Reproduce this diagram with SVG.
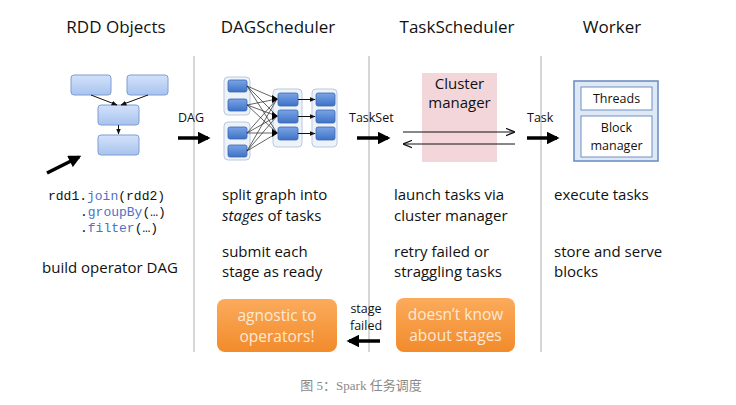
<svg xmlns="http://www.w3.org/2000/svg" width="736" height="405" viewBox="0 0 736 405">
<defs>
<linearGradient id="gLight" x1="0" y1="0" x2="0" y2="1"><stop offset="0" stop-color="#d3e2fa"/><stop offset="1" stop-color="#a8c3ee"/></linearGradient>
<linearGradient id="gDark" x1="0" y1="0" x2="0" y2="1"><stop offset="0" stop-color="#7aa4e6"/><stop offset="1" stop-color="#3f72c6"/></linearGradient>
<linearGradient id="gOrange" x1="0" y1="0" x2="0" y2="1"><stop offset="0" stop-color="#fbab5c"/><stop offset="1" stop-color="#f28b2b"/></linearGradient>
<marker id="mThin" viewBox="0 0 10 10" refX="9" refY="5" markerWidth="6" markerHeight="6" orient="auto"><path d="M0,1 L10,5 L0,9 z" fill="#111"/></marker>
<marker id="mThick" viewBox="0 0 10 10" refX="8" refY="5" markerWidth="3.6" markerHeight="3.6" orient="auto"><path d="M0,0 L10,5 L0,10 z" fill="#000"/></marker>
<marker id="mLine" viewBox="0 0 10 10" refX="9" refY="5" markerWidth="9" markerHeight="9" orient="auto"><path d="M0,1 L10,5 L0,9" fill="none" stroke="#111" stroke-width="1.4"/></marker>
</defs>
<style>
text{font-family:"Open Sans","Noto Sans",sans-serif;fill:#111}
.h{font-size:17px;text-anchor:middle}
.t{font-size:15px}
.lbl{font-size:12.5px}
.code{font-family:"Liberation Mono","DejaVu Sans Mono",monospace;font-size:13px}
.kw{fill:#4a72c8}
.sep{stroke:#c8c8c8;stroke-width:1.5}
.rdd{fill:url(#gLight);stroke:#7d9ed6;stroke-width:1}
.grp{fill:#eef3fa;stroke:#b9c9e0;stroke-width:1}
.tb{fill:url(#gDark);stroke:#3a66b0;stroke-width:0.8}
.thin{stroke:#111;stroke-width:1;fill:none}
.thick{stroke:#000;stroke-width:3.5;fill:none;marker-end:url(#mThick)}
.orange{fill:url(#gOrange)}
.ot{font-size:15.5px;fill:#fde9d3;text-anchor:middle}
.wk{fill:#dfe8f5;stroke:#6f8fc4;stroke-width:1.6}
.wi{fill:#fff;stroke:#6f8fc4;stroke-width:1}
.cap{font-family:"Liberation Serif","Noto Sans CJK SC",serif;font-size:13px;fill:#8a8a8a;text-anchor:middle}
</style>
<rect width="736" height="405" fill="#fff"/>

<g id="headers">
<text class="h" x="116" y="33">RDD Objects</text>
<text class="h" x="278" y="33">DAGScheduler</text>
<text class="h" x="457" y="33">TaskScheduler</text>
<text class="h" x="612" y="33">Worker</text>
</g>

<g id="separators">
<line class="sep" x1="194" y1="56" x2="194" y2="352"/>
<line class="sep" x1="369" y1="56" x2="369" y2="352"/>
<line class="sep" x1="541" y1="56" x2="541" y2="352"/>
</g>

<g id="rdd-objects">
<rect class="rdd" x="71" y="75" width="40" height="20" rx="3"/>
<rect class="rdd" x="127" y="75" width="41" height="20" rx="3"/>
<rect class="rdd" x="98" y="105" width="41" height="20" rx="3"/>
<rect class="rdd" x="98" y="135" width="41" height="20" rx="3"/>
<line class="thin" x1="91" y1="95" x2="117" y2="105" marker-end="url(#mThin)"/>
<line class="thin" x1="148" y1="95" x2="121" y2="105" marker-end="url(#mThin)"/>
<line class="thin" x1="118.5" y1="125" x2="118.5" y2="134" marker-end="url(#mThin)"/>
<line class="thick" x1="47" y1="173" x2="79" y2="157"/>
<text class="code" x="48" y="200">rdd1.<tspan class="kw">join</tspan>(rdd2)</text>
<text class="code" x="80" y="216">.<tspan class="kw">groupBy</tspan>(…)</text>
<text class="code" x="80" y="232">.<tspan class="kw">filter</tspan>(…)</text>
<text class="t" x="42" y="273">build operator DAG</text>
</g>

<g id="dag-scheduler">
<rect class="grp" x="224" y="77" width="26" height="38" rx="4"/>
<rect class="grp" x="224" y="122" width="26" height="38" rx="4"/>
<rect class="grp" x="273" y="89" width="29" height="58" rx="4"/>
<rect class="grp" x="312" y="89" width="25" height="58" rx="4"/>
<rect class="tb" x="228" y="80" width="19" height="12" rx="2"/>
<rect class="tb" x="228" y="99" width="19" height="12" rx="2"/>
<rect class="tb" x="228" y="127" width="19" height="12" rx="2"/>
<rect class="tb" x="228" y="145" width="19" height="12" rx="2"/>
<rect class="tb" x="278" y="93" width="20" height="13" rx="2"/>
<rect class="tb" x="278" y="110" width="20" height="13" rx="2"/>
<rect class="tb" x="278" y="127" width="20" height="13" rx="2"/>
<rect class="tb" x="316" y="93" width="19" height="13" rx="2"/>
<rect class="tb" x="316" y="110" width="19" height="13" rx="2"/>
<rect class="tb" x="316" y="127" width="19" height="13" rx="2"/>
</g>

<g id="task-scheduler">
<rect x="422" y="73" width="75" height="89" fill="#f3d6da"/>
<text class="t" x="459.5" y="89" text-anchor="middle">Cluster</text>
<text class="t" x="459.5" y="108" text-anchor="middle">manager</text>
<text class="t" x="394" y="200">launch tasks via</text>
<text class="t" x="394" y="221">cluster manager</text>
<text class="t" x="394" y="257">retry failed or</text>
<text class="t" x="394" y="277">straggling tasks</text>
</g>

<g id="worker">
<rect class="wk" x="574" y="81" width="84" height="80"/>
<rect class="wi" x="581" y="87" width="71" height="23"/>
<rect class="wi" x="581" y="116" width="71" height="41"/>
<text class="lbl" x="616.5" y="103" text-anchor="middle" font-size="13">Threads</text>
<text class="lbl" x="616.5" y="132" text-anchor="middle" font-size="13">Block</text>
<text class="lbl" x="616.5" y="150" text-anchor="middle" font-size="13">manager</text>
<text class="t" x="554" y="200">execute tasks</text>
<text class="t" x="554" y="257">store and serve</text>
<text class="t" x="554" y="277">blocks</text>
</g>

<g id="dag-texts">
<text class="t" x="222" y="200">split graph into</text>
<text class="t" x="222" y="221"><tspan font-style="italic">stages</tspan> of tasks</text>
<text class="t" x="222" y="257">submit each</text>
<text class="t" x="222" y="277">stage as ready</text>
</g>

<g id="agnostic">
<rect class="orange" x="217" y="299" width="120" height="53" rx="8"/>
<text class="ot" x="277" y="321">agnostic to</text>
<text class="ot" x="277" y="342">operators!</text>
</g>
<g id="no-stages">
<rect class="orange" x="396" y="298" width="119" height="54" rx="8"/>
<text class="ot" x="455.5" y="320">doesn’t know</text>
<text class="ot" x="455.5" y="341">about stages</text>
</g>

<g id="connectors">
<text class="lbl" x="178" y="122">DAG</text>
<line class="thick" x1="178" y1="138" x2="208" y2="138"/>
<text class="lbl" x="349" y="122">TaskSet</text>
<line class="thick" x1="357" y1="138" x2="388" y2="138"/>
<text class="lbl" x="527" y="122">Task</text>
<line class="thick" x1="527" y1="138" x2="557" y2="138"/>
<line class="thin" x1="403" y1="132" x2="514" y2="132" marker-end="url(#mLine)"/>
<line class="thin" x1="515" y1="144" x2="404" y2="144" marker-end="url(#mLine)"/>
<text class="lbl" x="366" y="313" text-anchor="middle" font-size="12">stage</text>
<text class="lbl" x="366" y="330" text-anchor="middle" font-size="12">failed</text>
<line class="thick" x1="380" y1="341" x2="349" y2="341"/>
<g id="dag-edges" stroke="#222" stroke-width="0.7">
<line x1="247" y1="86" x2="277" y2="99"/><line x1="247" y1="86" x2="277" y2="116"/><line x1="247" y1="86" x2="277" y2="133"/>
<line x1="247" y1="105" x2="277" y2="99"/><line x1="247" y1="105" x2="277" y2="116"/><line x1="247" y1="105" x2="277" y2="133"/>
<line x1="247" y1="133" x2="277" y2="99"/><line x1="247" y1="133" x2="277" y2="116"/><line x1="247" y1="133" x2="277" y2="133"/>
<line x1="247" y1="151" x2="277" y2="99"/><line x1="247" y1="151" x2="277" y2="116"/><line x1="247" y1="151" x2="277" y2="133"/>
</g>
<path d="M272,95 L278,99 L272,103 z M272,112 L278,116 L272,120 z M272,129 L278,133 L272,137 z" fill="#000"/>
<line class="thin" x1="298" y1="99.5" x2="315" y2="99.5" marker-end="url(#mThin)"/>
<line class="thin" x1="298" y1="116.5" x2="315" y2="116.5" marker-end="url(#mThin)"/>
<line class="thin" x1="298" y1="133.5" x2="315" y2="133.5" marker-end="url(#mThin)"/>
</g>

<text class="cap" x="361" y="390">图 5：Spark 任务调度</text>
</svg>
